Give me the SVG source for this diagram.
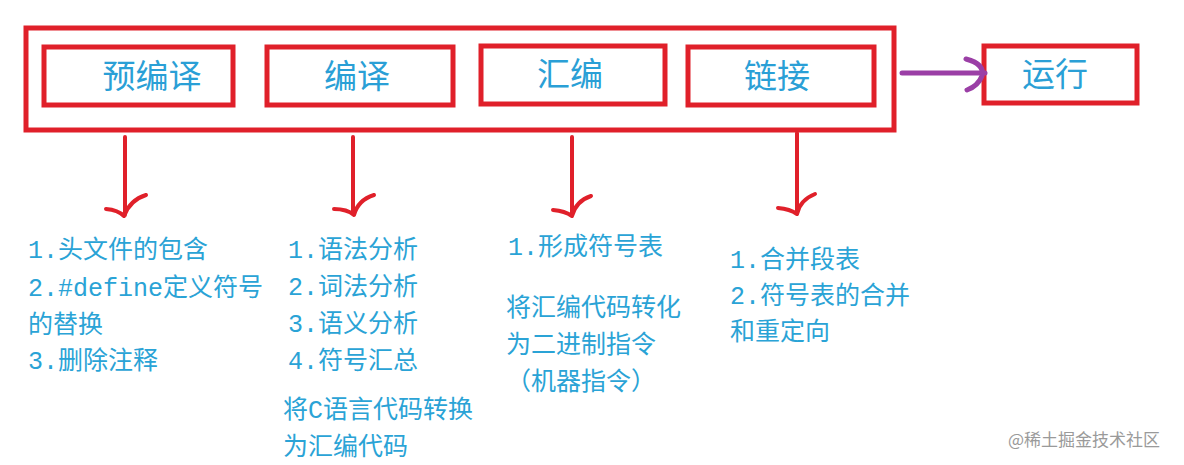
<svg xmlns="http://www.w3.org/2000/svg" width="1184" height="465" viewBox="0 0 1184 465">
<style>
.box{fill:none;stroke:#e0202a;stroke-width:5}
.lbl{font-family:"Noto Sans CJK SC",sans-serif;font-size:33px;fill:#2a9fd6;text-anchor:middle}
.t{font-family:"Liberation Mono","Noto Sans CJK SC",monospace;font-size:25px;fill:#2aa3d6}
.arr{fill:none;stroke:#e0202a;stroke-width:4;stroke-linecap:round;stroke-linejoin:round}
</style>
<rect width="1184" height="465" fill="#fff"/>
<g id="outer"><rect class="box" x="26" y="28" width="868" height="102"/></g>
<g id="n1"><rect class="box" x="44" y="47" width="189" height="58"/><text class="lbl" x="152" y="88">预编译</text></g>
<g id="n2"><rect class="box" x="267" y="47" width="186" height="58"/><text class="lbl" x="357" y="88">编译</text></g>
<g id="n3"><rect class="box" x="481" y="46" width="184" height="58"/><text class="lbl" x="570" y="86">汇编</text></g>
<g id="n4"><rect class="box" x="688" y="47" width="186" height="58"/><text class="lbl" x="777" y="88">链接</text></g>
<g id="n5"><rect class="box" x="984" y="46" width="153" height="57"/><text class="lbl" x="1055" y="86">运行</text></g>
<g id="connectors">
<path d="M902 73 H985" stroke="#9b3fa6" stroke-width="5" fill="none" stroke-linecap="round"/>
<path d="M966 59 Q985 64 982 76 Q978 86 967 90" stroke="#9b3fa6" stroke-width="5" fill="none" stroke-linecap="round"/>
<path class="arr" d="M125 137 V215 M106 209 Q118 210 124 216 Q130 200 146 195"/>
<path class="arr" d="M353 137 V214 M334 209 Q347 209 354 215 Q358 200 374 195"/>
<path class="arr" d="M572 137 V215 M553 210 Q565 211 572 216 Q576 201 591 196"/>
<path class="arr" d="M797 133 V213 M778 208 Q790 209 797 214 Q800 200 815 194"/>
</g>
<g id="text1">
<text class="t" x="28" y="258">1.头文件的包含</text>
<text class="t" x="28" y="296">2.#define定义符号</text>
<text class="t" x="28" y="333">的替换</text>
<text class="t" x="28" y="369">3.删除注释</text>
</g>
<g id="text2">
<text class="t" x="288" y="258">1.语法分析</text>
<text class="t" x="288" y="295">2.词法分析</text>
<text class="t" x="288" y="332">3.语义分析</text>
<text class="t" x="288" y="369">4.符号汇总</text>
<text class="t" x="283" y="418">将C语言代码转换</text>
<text class="t" x="283" y="455">为汇编代码</text>
</g>
<g id="text3">
<text class="t" x="508" y="255">1.形成符号表</text>
<text class="t" x="506" y="316">将汇编代码转化</text>
<text class="t" x="506" y="353">为二进制指令</text>
<text class="t" x="506" y="390">（机器指令）</text>
</g>
<g id="text4">
<text class="t" x="730" y="268">1.合并段表</text>
<text class="t" x="730" y="304">2.符号表的合并</text>
<text class="t" x="730" y="340">和重定向</text>
</g>
<text x="1008" y="446" font-family="Noto Sans CJK SC,sans-serif" font-size="17" fill="#9a9a9a">@稀土掘金技术社区</text>
</svg>
